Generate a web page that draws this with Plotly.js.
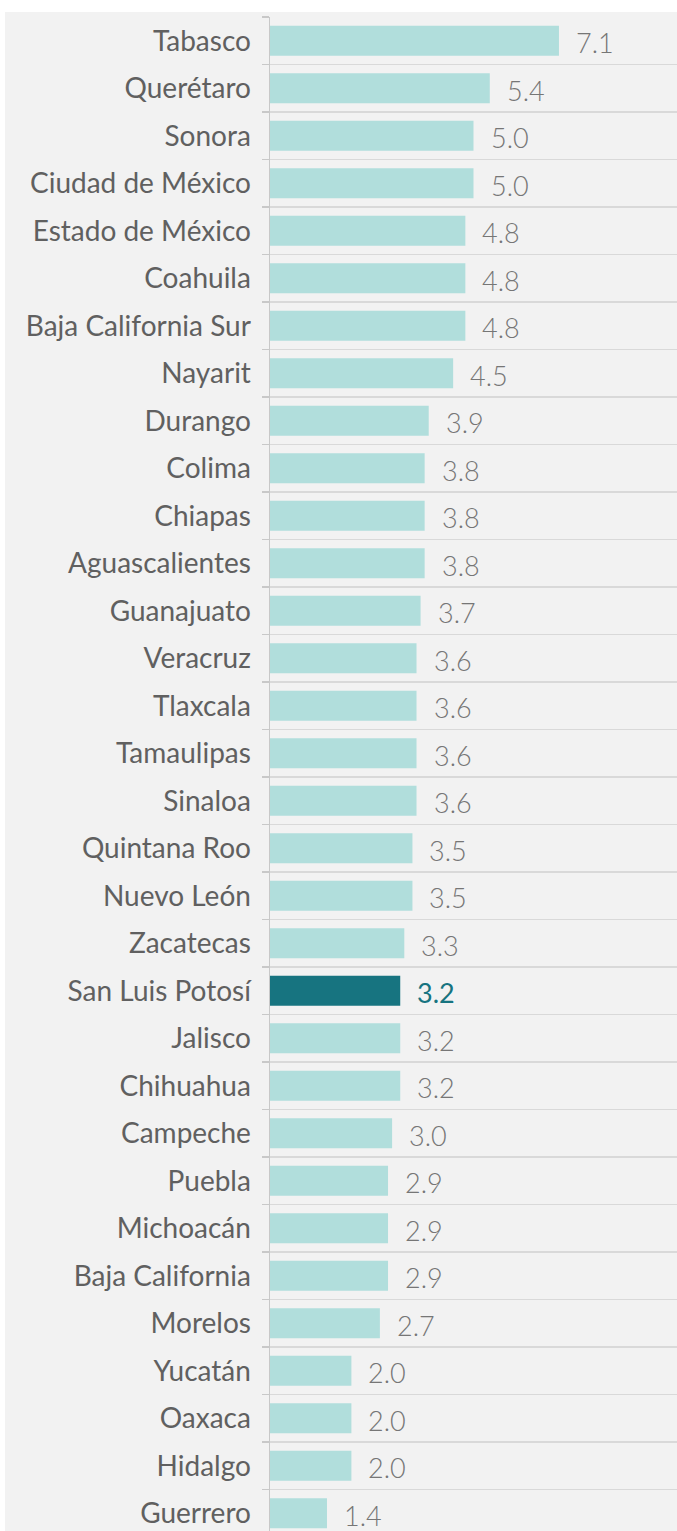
<!DOCTYPE html>
<html><head><meta charset="utf-8">
<script src="https://cdn.plot.ly/plotly-3.0.1.min.js"></script>
<style>html,body{margin:0;padding:0;background:#fff;}#chart{position:absolute;left:5px;top:12px;}</style>
</head><body><div id="chart"></div>
<script>
const states = ["Tabasco","Querétaro","Sonora","Ciudad de México","Estado de México","Coahuila","Baja California Sur","Nayarit","Durango","Colima","Chiapas","Aguascalientes","Guanajuato","Veracruz","Tlaxcala","Tamaulipas","Sinaloa","Quintana Roo","Nuevo León","Zacatecas","San Luis Potosí","Jalisco","Chihuahua","Campeche","Puebla","Michoacán","Baja California","Morelos","Yucatán","Oaxaca","Hidalgo","Guerrero"];
const values = [7.1,5.4,5.0,5.0,4.8,4.8,4.8,4.5,3.9,3.8,3.8,3.8,3.7,3.6,3.6,3.6,3.6,3.5,3.5,3.3,3.2,3.2,3.2,3.0,2.9,2.9,2.9,2.7,2.0,2.0,2.0,1.4];
const highlight = "San Luis Potosí";

const light = "#b1dedc", dark = "#177480";
const FONT = "Lato, 'Open Sans', sans-serif";
const colors = states.map(s => s === highlight ? dark : light);

const annotations = states.map((s, i) => ({
  x: values[i], y: s, xref: "x", yref: "y",
  text: values[i].toFixed(1), showarrow: false,
  xanchor: "left", xshift: 15, yshift: -2,
  font: {family: FONT, size: 27, weight: s === highlight ? 400 : 300, color: s === highlight ? dark : "#767676"}
}));

Plotly.newPlot("chart", [{
  type: "bar", orientation: "h",
  x: values, y: states,
  marker: {color: colors},
  hoverinfo: "none"
}], {
  width: 672, height: 1525,
  margin: {l: 265, r: 0, t: 5, b: 0},
  paper_bgcolor: "#f2f2f2", plot_bgcolor: "#f2f2f2",
  bargap: 0.37,
  showlegend: false,
  font: {family: FONT, color: "#606060"},
  xaxis: {range: [0, 10], showgrid: false, zeroline: false, showticklabels: false, fixedrange: true},
  yaxis: {type: "category", autorange: "reversed", tickson: "boundaries",
    ticks: "outside", ticklen: 7, tickcolor: "#c8c8c8", tickwidth: 1.5,
    showgrid: true, gridcolor: "#d9d9d9", gridwidth: 1.5,
    showline: true, linecolor: "#c8c8c8", linewidth: 1.5,
    ticklabelstandoff: 12,
    tickfont: {family: FONT, size: 28, color: "#606060"}},
  annotations: annotations
}, {staticPlot: true});
</script></body></html>
